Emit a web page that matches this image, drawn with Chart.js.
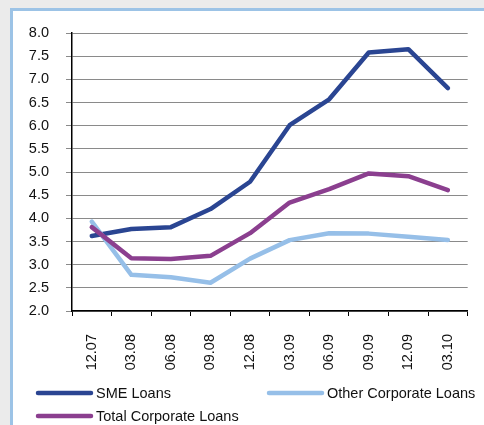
<!DOCTYPE html>
<html>
<head>
<meta charset="utf-8">
<script src="https://cdn.jsdelivr.net/npm/chart.js@4"></script>
<style>
  html, body { margin: 0; padding: 0; background: #ebebeb; }
  #frame { position: absolute; left: 10px; top: 8px; width: 490px; height: 440px; border: 3px solid #9cc3e6; background: #fff; }
  #loansChart { position: absolute; left: 0; top: 0; }
</style>
</head>
<body>
<div id="frame"></div>
<canvas id="loansChart" width="484" height="425"></canvas>
<script>
const quarters = ['12.07', '03.08', '06.08', '09.08', '12.08', '03.09', '06.09', '09.09', '12.09', '03.10'];
const smeLoans = [3.62, 3.77, 3.81, 4.20, 4.79, 6.01, 6.57, 7.58, 7.65, 6.81];
const otherCorporateLoans = [3.93, 2.78, 2.73, 2.61, 3.13, 3.53, 3.68, 3.67, 3.60, 3.53];
const totalCorporateLoans = [3.81, 3.14, 3.12, 3.19, 3.68, 4.34, 4.63, 4.97, 4.91, 4.61];

const fontFamily = '"Liberation Sans", Arial, sans-serif';
const gridGray = '#8a8a8a';

function lineSeries(label, data, color, order) {
  return {
    label: label,
    data: data,
    borderColor: color,
    backgroundColor: color,
    borderWidth: 4.5,
    pointRadius: 0,
    tension: 0,
    borderJoinStyle: 'round',
    borderCapStyle: 'round',
    order: order
  };
}

// legend laid out in two columns below the axis
const columnLegend = {
  id: 'columnLegend',
  afterDraw(chart) {
    const ctx = chart.ctx;
    const slots = [
      { x: 38, y: 393 },
      { x: 269, y: 393 },
      { x: 38, y: 416 }
    ];
    ctx.save();
    ctx.font = '14.5px ' + fontFamily;
    ctx.textBaseline = 'middle';
    chart.data.datasets.forEach((ds, i) => {
      const s = slots[i];
      ctx.strokeStyle = ds.borderColor;
      ctx.lineWidth = 4.5;
      ctx.lineCap = 'round';
      ctx.beginPath();
      ctx.moveTo(s.x, s.y);
      ctx.lineTo(s.x + 53, s.y);
      ctx.stroke();
      ctx.fillStyle = '#111';
      ctx.fillText(ds.label, s.x + 58, s.y + 1);
    });
    ctx.restore();
  }
};

const ctx = document.getElementById('loansChart').getContext('2d');
const loansChart = new Chart(ctx, {
  type: 'line',
  data: {
    labels: quarters,
    datasets: [
      lineSeries('SME Loans', smeLoans, '#2a4592', 3),
      lineSeries('Other Corporate Loans', otherCorporateLoans, '#96bfe8', 2),
      lineSeries('Total Corporate Loans', totalCorporateLoans, '#8b3f8f', 1)
    ]
  },
  options: {
    responsive: false,
    animation: false,
    layout: { padding: { top: 33, right: 14, left: 0, bottom: 0 } },
    plugins: {
      legend: { display: false },
      tooltip: { enabled: false }
    },
    scales: {
      x: {
        offset: true,
        grid: {
          offset: true,
          drawOnChartArea: true,
          color: c => c.index === quarters.length ? gridGray : 'rgba(0,0,0,0)',
          tickColor: '#000',
          tickLength: 5
        },
        border: { color: '#000', width: 1.5 },
        ticks: {
          minRotation: 90,
          maxRotation: 90,
          autoSkip: false,
          padding: 18,
          color: '#111',
          font: { family: fontFamily, size: 14.5 }
        },
        afterFit: s => { s.height = 114; }
      },
      y: {
        min: 2,
        max: 8,
        ticks: {
          stepSize: 0.5,
          padding: 17,
          color: '#111',
          font: { family: fontFamily, size: 14.5 },
          callback: v => v.toFixed(1)
        },
        grid: { color: gridGray, tickColor: gridGray, tickLength: 6 },
        border: { color: '#000', width: 1.5 },
        afterFit: s => { s.width = 72; }
      }
    }
  },
  plugins: [columnLegend]
});
</script>
</body>
</html>
